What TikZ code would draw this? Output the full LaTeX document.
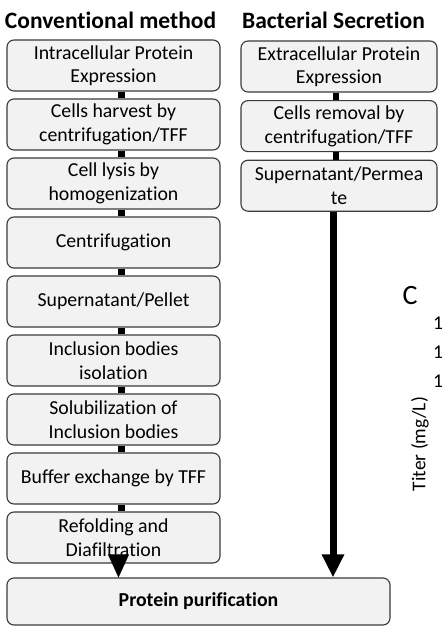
\documentclass[tikz,border=0pt]{standalone}
\usepackage{fontspec}
\setmainfont{Carlito}[Ligatures=NoCommon]
\usepackage{xcolor}
\usetikzlibrary{arrows.meta,positioning}

\definecolor{boxfill}{HTML}{F2F2F2}
\definecolor{boxline}{HTML}{3A3A3A}

\begin{document}
\begin{tikzpicture}[
    x=1pt, y=-1pt,
    stepbox/.style={rectangle, rounded corners=7pt, draw=boxline, line width=1.1pt, fill=boxfill,
        minimum width=213pt, minimum height=51pt, align=center, inner sep=2pt,
        font=\fontsize{19.8}{23.5}\selectfont},
    secbox/.style={stepbox, minimum width=196pt},
    title/.style={font=\fontsize{23.5}{26}\selectfont\bfseries},
    axislabel/.style={font=\fontsize{19.5}{22}\selectfont},
    link/.style={line width=6.5pt},
    arrow/.style={line width=7pt, -{Triangle[width=21pt,length=23pt]}}
]
\useasboundingbox (0,0) rectangle (442,626);

% Titles
\node[title] (conv_title) at (110.5,20) {Conventional method};
\node[title] (sec_title) at (333.5,20) {Bacterial Secretion};

% Conventional method
\node[stepbox] (intra) at (113.5,65.5) {Intracellular Protein\\Expression};
\node[stepbox, below=6.9pt of intra] (harvest) {Cells harvest by\\centrifugation/TFF};
\node[stepbox, below=6.9pt of harvest] (lysis) {Cell lysis by\\homogenization};
\node[stepbox, below=6.9pt of lysis] (centri) {Centrifugation};
\node[stepbox, below=6.9pt of centri] (pellet) {Supernatant/Pellet};
\node[stepbox, below=6.9pt of pellet] (ib_iso) {Inclusion bodies\\isolation};
\node[stepbox, below=6.9pt of ib_iso] (solub) {Solubilization of\\Inclusion bodies};
\node[stepbox, below=6.9pt of solub] (buffer) {Buffer exchange by TFF};
\node[stepbox, below=6.9pt of buffer] (refold) {Refolding and\\Diafiltration};

% Bacterial secretion
\node[secbox] (extra) at (339,66.5) {Extracellular Protein\\Expression};
\node[secbox, below=7.5pt of extra] (removal) {Cells removal by\\centrifugation/TFF};
\node[secbox, below=7.5pt of removal] (permeate) {Supernatant/Permea\\te};

% Purification
\node[stepbox, minimum width=383pt, minimum height=47pt, font=\fontsize{19.8}{23.5}\selectfont\bfseries] (purif) at (198.5,601.5) {Protein purification};

% Links
\draw[link] ([xshift=8pt]intra.south) -- ([xshift=8pt]harvest.north);
\draw[link] ([xshift=8pt]harvest.south) -- ([xshift=8pt]lysis.north);
\draw[link] ([xshift=8pt]lysis.south) -- ([xshift=8pt]centri.north);
\draw[link] ([xshift=8pt]centri.south) -- ([xshift=8pt]pellet.north);
\draw[link] ([xshift=8pt]pellet.south) -- ([xshift=8pt]ib_iso.north);
\draw[link] ([xshift=8pt]ib_iso.south) -- ([xshift=8pt]solub.north);
\draw[link] ([xshift=8pt]solub.south) -- ([xshift=8pt]buffer.north);
\draw[link] ([xshift=8pt]buffer.south) -- ([xshift=8pt]refold.north);
\draw[link] ([xshift=-3pt]extra.south) -- ([xshift=-3pt]removal.north);
\draw[link] ([xshift=-3pt]removal.south) -- ([xshift=-3pt]permeate.north);

% Arrows
\draw[line width=0.1pt, -{Triangle[width=21pt,length=23pt]}] ([xshift=5pt]refold.south) -- ([xshift=5pt]refold.south |- purif.north);
\draw[arrow] ([xshift=-6pt]permeate.south) -- ([xshift=-6pt]permeate.south |- purif.north);

% Neighbouring panel
\node[font=\fontsize{28}{30}\selectfont] (panel_c) at (410,296) {C};
\node[axislabel, anchor=west, inner sep=0pt] (tick_a) at (433,323) {1};
\node[axislabel, anchor=west, inner sep=0pt] (tick_b) at (433,352) {1};
\node[axislabel, anchor=west, inner sep=0pt] (tick_c) at (433,381) {1};
\node[axislabel, rotate=90] (titer) at (420,444) {Titer (mg/L)};
\end{tikzpicture}
\end{document}
